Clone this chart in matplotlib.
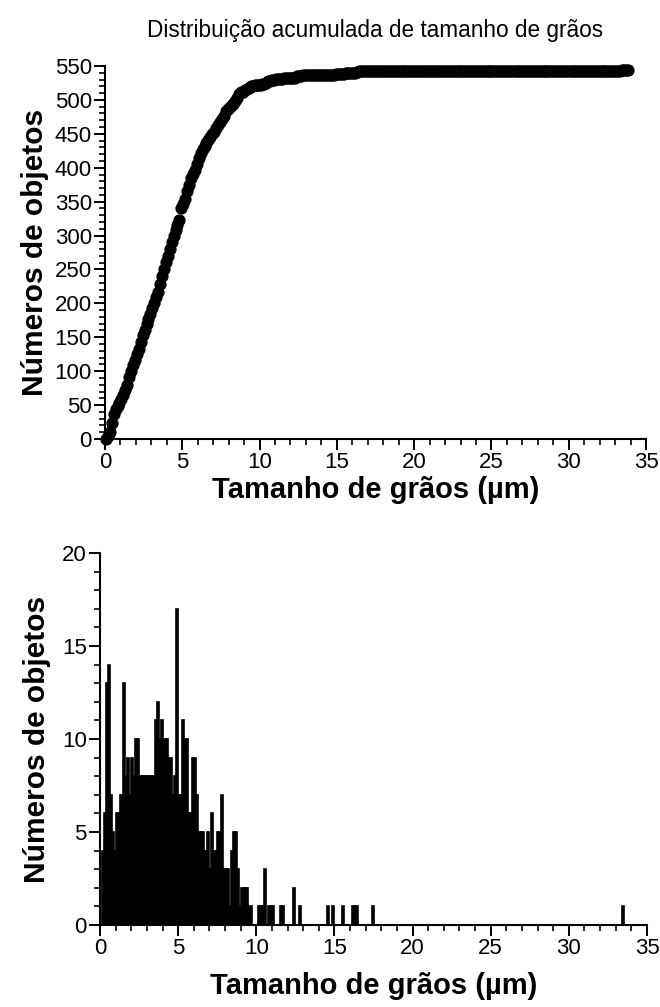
import matplotlib
matplotlib.use('Agg')
import matplotlib.pyplot as plt
import numpy as np
from matplotlib.ticker import MultipleLocator

plt.rcParams['font.family'] = ['Liberation Sans', 'DejaVu Sans']

# ---------------- data ----------------
BIN_WIDTH = 0.125          # µm
N_BINS = 271               # bins from 0 to ~33.9 µm

# counts for the first 80 bins (0 - 10 µm)
dense_counts = [0, 4, 6, 13, 14, 7, 5, 4, 6, 6,
                7, 7, 13, 8, 9, 7, 9, 8, 10, 10,
                8, 8, 8, 8, 8, 8, 8, 8, 11, 12,
                10, 11, 9, 10, 10, 9, 9, 7, 8, 17,
                7, 7, 11, 10, 10, 6, 6, 9, 9, 7,
                5, 5, 5, 4, 4, 5, 3, 6, 4, 4,
                5, 5, 7, 3, 3, 3, 1, 4, 5, 5,
                3, 1, 2, 2, 2, 2, 1, 1, 0, 0]

# sparse tail: bin centres (µm) and counts
sparse_sizes = [10.1875, 10.3125, 10.4375, 10.5625, 10.8125, 10.9375, 11.0625,
                11.5625, 11.6875, 12.4375, 12.8125, 14.5625, 14.9375, 15.5625,
                16.1875, 16.3125, 16.4375, 17.4375, 33.4375]
sparse_counts = [1, 1, 1, 3, 1, 1, 1,
                 1, 1, 2, 1, 1, 1, 1,
                 1, 1, 1, 1, 1]

title = "Distribuição acumulada de tamanho de grãos"
xlabel = "Tamanho de grãos (µm)"
ylabel = "Números de objetos"

# ---------------- assemble ----------------
counts = np.zeros(N_BINS)
counts[:len(dense_counts)] = dense_counts
for s, c in zip(sparse_sizes, sparse_counts):
    counts[int(s / BIN_WIDTH)] = c
centers = (np.arange(N_BINS) + 0.5) * BIN_WIDTH
cumulative = np.cumsum(counts)

# ---------------- figure ----------------
fig = plt.figure(figsize=(6.6, 10.07), dpi=100)
W, H = 660, 1007

def add_axes(l, r, top, bot):
    return fig.add_axes([l / W, 1 - bot / H, (r - l) / W, (bot - top) / H])

ax1 = add_axes(105, 646, 66, 439)
ax2 = add_axes(100, 647, 553, 925)

def style(ax):
    for s in ['top', 'right']:
        ax.spines[s].set_visible(False)
    for s in ['left', 'bottom']:
        ax.spines[s].set_linewidth(1.5)
    ax.tick_params(which='major', direction='out', length=8, width=1.4,
                   labelsize=16, pad=1.5)
    ax.tick_params(which='minor', direction='out', length=4.5, width=1.2)
    ax.xaxis.set_major_locator(MultipleLocator(5))
    ax.xaxis.set_minor_locator(MultipleLocator(1))

# top: cumulative
ax1.plot(centers, cumulative, 'o', color='black', ms=7.8, clip_on=False)
ax1.set_xlim(0, 35)
ax1.set_ylim(0, 550)
style(ax1)
ax1.yaxis.set_major_locator(MultipleLocator(50))
ax1.yaxis.set_minor_locator(MultipleLocator(10))
ax1.set_xlabel(xlabel, fontsize=21, fontweight='bold', labelpad=2)
ax1.set_ylabel(ylabel, fontsize=21.5, fontweight='bold', labelpad=4)
ax1.set_title(title, fontsize=16.3, pad=21)

# bottom: histogram
ax2.bar(centers, counts, width=BIN_WIDTH, color='black', edgecolor='black',
        linewidth=1.2)
ax2.set_xlim(0, 35)
ax2.set_ylim(0, 20)
style(ax2)
ax2.yaxis.set_major_locator(MultipleLocator(5))
ax2.yaxis.set_minor_locator(MultipleLocator(1))
ax2.set_xlabel(xlabel, fontsize=21, fontweight='bold', labelpad=9)
ax2.set_ylabel(ylabel, fontsize=21.5, fontweight='bold', labelpad=8)

fig.savefig('out.png', dpi=100)
